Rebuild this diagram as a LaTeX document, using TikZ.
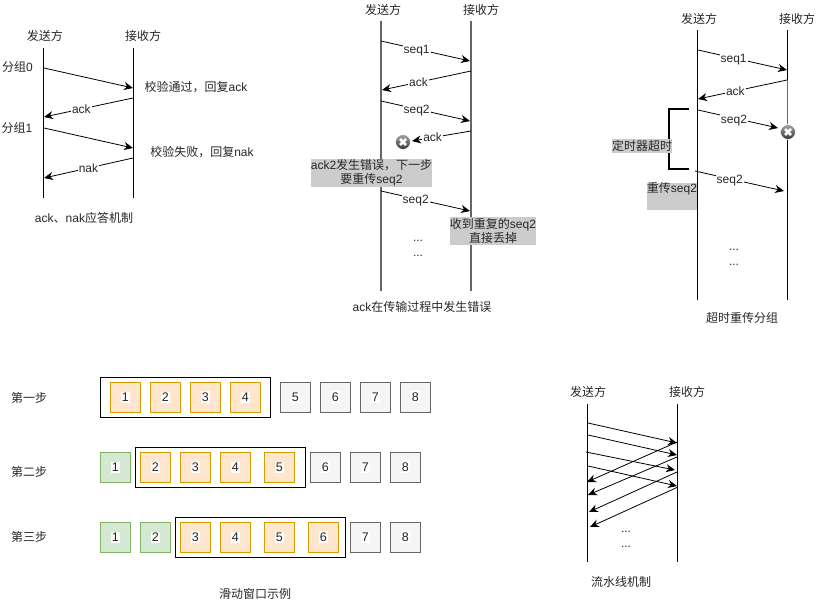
\documentclass[tikz,border=0pt]{standalone}
\usepackage{fontspec}
\setmainfont{Liberation Sans}
\newfontfamily\cjk{Noto Sans CJK SC}
\newcommand{\zh}[1]{{\cjk #1}}
\definecolor{wintext}{HTML}{333333}
\definecolor{winorange}{HTML}{FFE6CC}
\definecolor{winorangeline}{HTML}{D79B00}
\definecolor{wingreen}{HTML}{D5E8D4}
\definecolor{wingreenline}{HTML}{82B366}
\definecolor{wingray}{HTML}{F5F5F5}
\definecolor{wingrayline}{HTML}{666666}
\definecolor{notegray}{HTML}{CCCCCC}
\usetikzlibrary{arrows.meta,positioning,calc}

\begin{document}
\begin{tikzpicture}[
  x=1pt,y=-1pt,
  font=\fontsize{12}{14}\selectfont,
  every node/.style={text=black!85,inner sep=0pt},
  lifeline/.style={draw=black,line width=0.9pt},
  graylife/.style={draw=black!60,line width=1.3pt},
  link/.style={-{Stealth[length=9pt,width=8pt]},draw=black,line width=0.8pt},
  msg/.style={fill=white,inner xsep=1pt,inner ysep=0.5pt},
  seqmsg/.style={msg,yshift=-2pt},
  note/.style={fill=notegray,align=center},
  errmark/.style={circle,draw=white,line width=0.6pt,minimum size=15pt,top color=black!35,bottom color=black!80,
    path picture={\draw[white,line width=2.6pt]
      ($(path picture bounding box.center)+(-3pt,-3pt)$) -- ($(path picture bounding box.center)+(3pt,3pt)$)
      ($(path picture bounding box.center)+(-3pt,3pt)$) -- ($(path picture bounding box.center)+(3pt,-3pt)$);}},
  cell/.style={minimum size=30pt,line width=0.8pt,anchor=north west},
  sent/.style={cell,draw=winorangeline,fill=winorange},
  acked/.style={cell,draw=wingreenline,fill=wingreen},
  waiting/.style={cell,draw=wingrayline,fill=wingray},
  window/.style={draw=black,line width=0.9pt,minimum width=170pt,minimum height=40pt,anchor=north west},
  num/.style={fill=white,inner xsep=1pt,inner ysep=1.5pt,font=\fontsize{12.5}{14}\selectfont}
]
\useasboundingbox (0,0) rectangle (828,605);

% ack and nak
\node (a0) at (45,36) {\zh{发送方}};
\node (a1) at (143,36) {\zh{接收方}};
\coordinate (at) at (43.5,48);
\coordinate (ab) at (43.5,198);
\coordinate (bt) at (133.5,48);
\coordinate (bb) at (133.5,198);
\draw[lifeline] (at) -- (ab);
\draw[lifeline] (bt) -- (bb);
\node (ag0) at (17.5,67) {\zh{分组}0};
\node (ag1) at (17,128) {\zh{分组}1};
\foreach \n/\x/\y in {m1/44/68,m2/133/88,m3/133/98,m4/44/117,m5/44/128,m6/133/148,m7/133/158,m8/44/178}
  \coordinate (\n) at (\x,\y);
\draw[link] (m1) -- (m2);
\draw[link] (m3) -- node[msg,pos=0.58] (ak) {ack} (m4);
\draw[link] (m5) -- (m6);
\draw[link] (m7) -- node[msg,pos=0.5] (nk) {nak} (m8);
\node (ao) at (196,87) {\zh{校验通过，回复}ack};
\node (af) at (202,152) {\zh{校验失败，回复}nak};
\node (acap) at (84,218) {ack\zh{、}nak\zh{应答机制}};

% ack error
\node (c0) at (383,10) {\zh{发送方}};
\node (c1) at (481,10) {\zh{接收方}};
\coordinate (ct) at (381,21);
\coordinate (cb) at (381,291);
\coordinate (dt) at (471,21);
\coordinate (db) at (471,291);
\draw[graylife] (ct) -- (cb);
\draw[graylife] (dt) -- (db);
\foreach \n/\x/\y in {n1/381/41,n2/470/61,n3/471/71,n4/382/90,n5/381/101,n6/470/121,n7/471/131,n8/412/141,n9/381/191,n10/470/211}
  \coordinate (\n) at (\x,\y);
\draw[link] (n1) -- node[seqmsg,pos=0.4] (cs1) {seq1} (n2);
\draw[link] (n3) -- node[msg,pos=0.59] (ca1) {ack} (n4);
\draw[link] (n5) -- node[seqmsg,pos=0.4] (cs2) {seq2} (n6);
\draw[link] (n7) -- node[msg,pos=0.65] (ca2) {ack} (n8);
\node[errmark] (cx) at (403,142) {};
\node[note,minimum width=121pt,minimum height=28pt] (cn1) at (371.5,173)
  {ack2\zh{发生错误，下一步}\\\zh{要重传}seq2};
\draw[link] (n9) -- node[seqmsg,pos=0.39] (cs3) {seq2} (n10);
\node[note,minimum width=86pt,minimum height=28pt] (cn2) at (493,231)
  {\zh{收到重复的}seq2\\\zh{直接丢掉}};
\node (cd1) at (418,241) {...};
\node (cd2) at (418,256) {...};
\node (ccap) at (422,307) {ack\zh{在传输过程中发生错误}};

% timeout
\node (e0) at (699,19) {\zh{发送方}};
\node (e1) at (797,19) {\zh{接收方}};
\coordinate (et) at (697.5,30);
\coordinate (eb) at (697.5,300);
\coordinate (ft) at (787.5,30);
\coordinate (fb) at (787.5,300);
\coordinate (fg) at (787.5,80);
\coordinate (fh) at (787.5,125);
\draw[lifeline] (et) -- (eb);
\draw[lifeline] (ft) -- (fb);
\draw[graylife] (fg) -- (fh);
\foreach \n/\x/\y in {p1/698/50,p2/787/70,p3/787/80,p4/698/99,p5/698/110,p6/778/128,p7/695/171,p8/784/191,h1/689/109,h2/669/109,h3/669/169,h4/689/169}
  \coordinate (\n) at (\x,\y);
\draw[link] (p1) -- node[seqmsg,pos=0.4] (es1) {seq1} (p2);
\draw[link] (p3) -- node[msg,pos=0.58] (ea1) {ack} (p4);
\draw[link] (p5) -- node[seqmsg,pos=0.45] (es2) {seq2} (p6);
\node[errmark] (ex) at (788,132) {};
\draw[line width=1.5pt] (h1) -- (h2) -- (h3) -- (h4);
\node[note,minimum width=60pt,minimum height=14pt] (en1) at (642,146) {\zh{定时器超时}};
\draw[link] (p7) -- node[seqmsg,pos=0.39] (es3) {seq2} (p8);
\node[fill=notegray,minimum width=50pt,minimum height=27pt] (en2) at (672,196.5) {};
\node (en3) at (672,189) {\zh{重传}seq2};
\node (ed1) at (734,250) {...};
\node (ed2) at (734,265) {...};
\node (ecap) at (742,318) {\zh{超时重传分组}};

% window
\node (s1) at (29,398) {\zh{第一步}};
\node (s2) at (29,472) {\zh{第二步}};
\node (s3) at (29,537) {\zh{第三步}};
\node[window] (w1) at (100,377) {};
\node[window] (w2) at (135,447) {};
\node[window] (w3) at (175,517) {};
\foreach \st/\x/\t [count=\i] in {sent/110/1,sent/150/2,sent/190/3,sent/230/4,
    waiting/280/5,waiting/320/6,waiting/360/7,waiting/400/8}
  \node[\st,label={[num]center:\t}] (ra\i) at (\x,382) {};
\foreach \st/\x/\t [count=\i] in {acked/100/1,sent/140/2,sent/180/3,sent/220/4,
    sent/264/5,waiting/310/6,waiting/350/7,waiting/390/8}
  \node[\st,label={[num]center:\t}] (rb\i) at (\x,452) {};
\foreach \st/\x/\t [count=\i] in {acked/100/1,acked/140/2,sent/180/3,sent/220/4,
    sent/264/5,sent/308/6,waiting/350/7,waiting/390/8}
  \node[\st,label={[num]center:\t}] (rc\i) at (\x,522) {};
\node (wcap) at (255,594) {\zh{滑动窗口示例}};

% pipeline
\node (g0) at (588,392) {\zh{发送方}};
\node (g1) at (687,392) {\zh{接收方}};
\coordinate (gt) at (587.5,404);
\coordinate (gb) at (587.5,562);
\coordinate (ht) at (677.5,404);
\coordinate (hb) at (677.5,562);
\draw[lifeline] (gt) -- (gb);
\draw[lifeline] (ht) -- (hb);
\foreach \n/\ax/\ay/\bx/\by in {f1/588/423/677/443,f2/588/435/677/455,f3/586/452/675/470,f4/588/466/677/486,
    r1/677/442/587/482,r2/677/457/588/495,r3/677/472/589/512,r4/678/487/590/527} {
  \coordinate (\n a) at (\ax,\ay);
  \coordinate (\n b) at (\bx,\by);
}
\draw[link] (f1a) -- (f1b);
\draw[link] (f2a) -- (f2b);
\draw[link] (f3a) -- (f3b);
\draw[link] (f4a) -- (f4b);
\draw[link] (r1a) -- (r1b);
\draw[link] (r2a) -- (r2b);
\draw[link] (r3a) -- (r3b);
\draw[link] (r4a) -- (r4b);
\node (gd1) at (626,532) {...};
\node (gd2) at (626,547) {...};
\node (gcap) at (621,582) {\zh{流水线机制}};
\end{tikzpicture}
\end{document}
